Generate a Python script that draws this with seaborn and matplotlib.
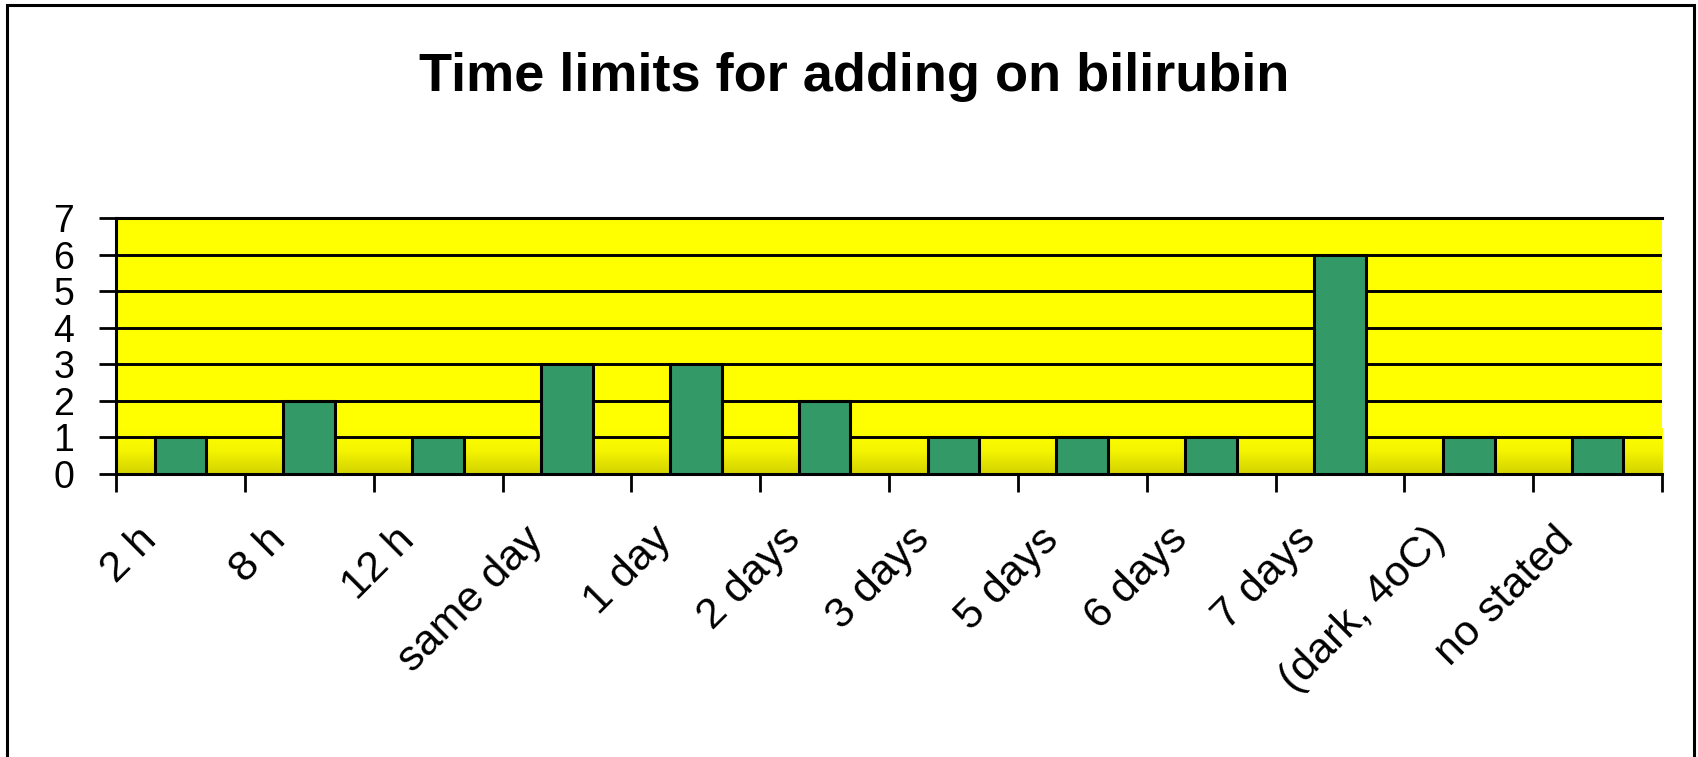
import numpy as np
import pandas as pd
import matplotlib
matplotlib.use("Agg")
import matplotlib.pyplot as plt
from matplotlib.colors import LinearSegmentedColormap
from matplotlib.patches import Rectangle
from matplotlib.transforms import ScaledTranslation
import seaborn as sns

# Data
categories = ["2 h", "8 h", "12 h", "same day", "1 day", "2 days", "3 days",
              "5 days", "6 days", "7 days", "(dark, 4oC)", "no stated"]
counts = [1, 2, 1, 3, 3, 2, 1, 1, 1, 6, 1, 1]
y_ticks = [0, 1, 2, 3, 4, 5, 6, 7]
title = "Time limits for adding on bilirubin"

plt.rcParams["font.family"] = ["Liberation Sans", "DejaVu Sans"]

W, H, DPI = 1698, 757, 100
fig = plt.figure(figsize=(W / DPI, H / DPI), dpi=DPI)
fig.patch.set_facecolor("white")

left, right, top, bottom = 116, 1662, 218, 474
ax = fig.add_axes([left / W, 1 - bottom / H, (right - left) / W, (bottom - top) / H])

df = pd.DataFrame({"time": categories, "n": counts})

# Yellow plot area, darkening towards the baseline
ax.set_facecolor("#ffff00")
grad = np.linspace(0, 1, 256).reshape(-1, 1)
cmap = LinearSegmentedColormap.from_list("yel", ["#d2d200", "#f4f400", "#ffff00"])
ax.imshow(grad, extent=(-0.5, 11.5, 0, 1.25), origin="lower", cmap=cmap,
          aspect="auto", zorder=0.1, interpolation="bilinear")

sns.barplot(data=df, x="time", y="n", order=categories, color="#339966",
            saturation=1, width=0.4, edgecolor="black", linewidth=2.2,
            ax=ax, zorder=3)

ax.set_xlim(-0.5, len(categories) - 0.5)
ax.set_ylim(0, 7)
ax.set_xlabel("")
ax.set_ylabel("")

# Horizontal gridlines
for v in y_ticks[1:-1]:
    ax.axhline(v, color="black", lw=2.1, zorder=1)

for s in ["left", "bottom", "top"]:
    ax.spines[s].set_color("black")
    ax.spines[s].set_linewidth(2.2)
ax.spines["right"].set_visible(False)

ax.set_yticks(y_ticks)
ax.set_yticklabels([str(v) for v in y_ticks])
ax.tick_params(axis="y", direction="out", length=12, width=2.0, pad=18,
               labelsize=27, colors="black")

# Category labels at slot centres, tick marks at slot boundaries
ax.set_xticks(range(len(categories)))
ax.set_xticklabels(categories)
ax.set_xticks(np.arange(-0.5, len(categories)), minor=True)
ax.tick_params(axis="x", which="major", length=0, pad=43, labelsize=31)
ax.tick_params(axis="x", which="minor", direction="out", length=13, width=2.0)
offset = ScaledTranslation(-30 / DPI, 0, fig.dpi_scale_trans)
for lab in ax.get_xticklabels():
    lab.set_rotation(45)
    lab.set_ha("right")
    lab.set_va("center")
    lab.set_rotation_mode("anchor")
    lab.set_transform(lab.get_transform() + offset)

fig.text(854 / W, 1 - 77 / H, title, ha="center", va="center",
         fontsize=39, fontweight="bold")

# Outer frame
fig.patches.append(Rectangle((7 / W, -0.02), (1694 - 7) / W, 1.02 - 5 / H,
                             transform=fig.transFigure, fill=False,
                             edgecolor="black", lw=2.2))

fig.savefig("out.png", dpi=DPI)
